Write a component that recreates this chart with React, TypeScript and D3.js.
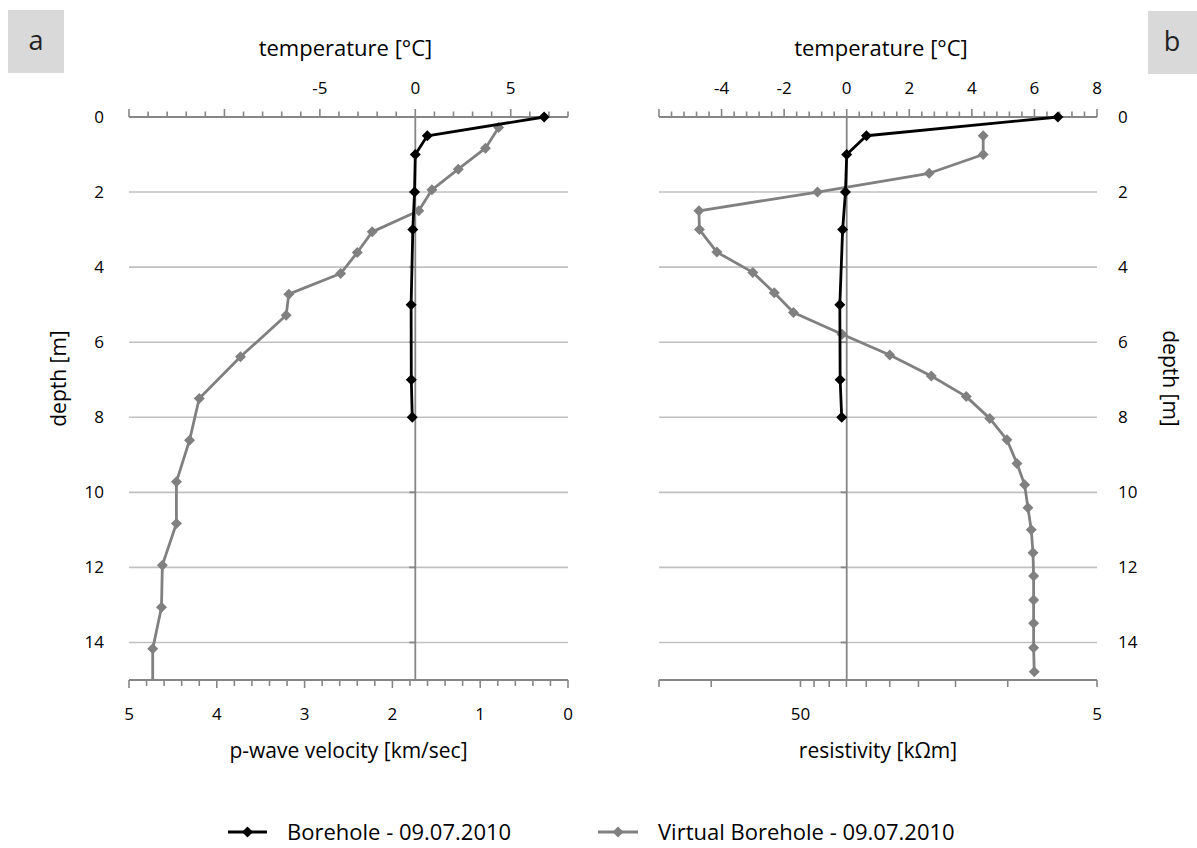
import React from "react";
import * as d3 from "d3";

// ---------- data ----------
const boreholeDepth = [0, 0.5, 1, 2, 3, 5, 7, 8];
const boreholeTemp = [6.75, 0.63, 0.0, -0.04, -0.13, -0.22, -0.21, -0.16];

const virtualDepthA = [0.28, 0.83, 1.39, 1.94, 2.5, 3.06, 3.61, 4.17, 4.72, 5.28, 6.39, 7.5, 8.61, 9.72, 10.83, 11.94, 13.06, 14.17, 15.28];
const virtualVelocity = [0.79, 0.94, 1.25, 1.55, 1.7, 2.23, 2.4, 2.59, 3.18, 3.21, 3.73, 4.2, 4.31, 4.46, 4.46, 4.62, 4.63, 4.73, 4.73];

const virtualDepthB = [0.5, 1, 1.5, 2, 2.5, 3, 3.6, 4.14, 4.68, 5.21, 5.79, 6.34, 6.9, 7.45, 8.03, 8.6, 9.23, 9.8, 10.41, 11.0, 11.61, 12.23, 12.87, 13.49, 14.14, 14.78];
const virtualResistivity = [12.1, 12.1, 18.4, 43.8, 110, 109.6, 95.7, 72.4, 61.3, 52.8, 36.2, 25.0, 18.1, 13.8, 11.5, 10.06, 9.31, 8.77, 8.55, 8.33, 8.22, 8.18, 8.18, 8.18, 8.18, 8.14];

const depthTicks = [0, 2, 4, 6, 8, 10, 12, 14];
const tempLabelsA = [-5, 0, 5];
const tempLabelsB = [-4, -2, 0, 2, 4, 6, 8];
const velocityLabels = [5, 4, 3, 2, 1, 0];
const resistivityTicks = [150, 100, 50, 45, 40, 35, 30, 25, 20, 15, 10, 5];
const resistivityLabels = [50, 5];

const seriesNames = ["Borehole - 09.07.2010", "Virtual Borehole - 09.07.2010"];

// ---------- style ----------
const FONT = "'Open Sans', sans-serif";
const AXIS = "#868686";
const GRID = "#c0c0c0";
const BLACK = "#000000";
const GRAY = "#808080";

const W = 1197;
const H = 848;
const TOP = 117;
const BOTTOM = 680;

const y = d3.scaleLinear().domain([0, 15]).range([TOP, BOTTOM]);

const A = { x0: 129, x1: 568 };
const B = { x0: 659, x1: 1097 };
const xTempA = d3.scaleLinear().domain([-15, 8]).range([A.x0, A.x1]);
const xVel = d3.scaleLinear().domain([5, 0]).range([A.x0, A.x1]);
const xTempB = d3.scaleLinear().domain([-6, 8]).range([B.x0, B.x1]);
const xRes = d3.scaleLog().domain([150, 5]).range([B.x0, B.x1]);

function diamond(cx: number, cy: number, r: number) {
  return `M${cx},${cy - r}L${cx + r},${cy}L${cx},${cy + r}L${cx - r},${cy}Z`;
}

function Series({ xs, ys, color, clip }: { xs: number[]; ys: number[]; color: string; clip?: string }) {
  const pts = xs.map((x, i) => [x, ys[i]] as [number, number]);
  const line = d3.line<[number, number]>().x((d) => d[0]).y((d) => d[1]);
  return (
    <g clipPath={clip}>
      <path d={line(pts) || ""} fill="none" stroke={color} strokeWidth={2.8} strokeLinejoin="round" />
      {pts.map((p, i) => (
        <path key={i} d={diamond(p[0], p[1], 5.5)} fill={color} />
      ))}
    </g>
  );
}

export default function App() {
  const tempMinorA = d3.range(-15, 8.001, 1);
  const velMinor = d3.range(0, 5.001, 0.2);
  const tempMinorB = d3.range(-6, 8.001, 0.4);

  const legendY = 832;
  return (
    <svg width={W} height={H} style={{ display: "block", position: "absolute", left: 0, top: 0 }} fontFamily={FONT}>
      <rect width={W} height={H} fill="#fff" />
      <defs>
        <clipPath id="clipA">
          <rect x={A.x0 - 8} y={TOP - 8} width={A.x1 - A.x0 + 16} height={BOTTOM - TOP + 8} />
        </clipPath>
        <clipPath id="clipB">
          <rect x={B.x0 - 8} y={TOP - 8} width={B.x1 - B.x0 + 16} height={BOTTOM - TOP + 8} />
        </clipPath>
      </defs>

      {/* panel labels */}
      <rect x={8} y={10} width={56} height={63} fill="#d9d9d9" />
      <text x={36} y={50} fontSize={27} textAnchor="middle" fill="#222">a</text>
      <rect x={1148} y={11} width={49} height={63} fill="#d9d9d9" />
      <text x={1172} y={51} fontSize={27} textAnchor="middle" fill="#222">b</text>

      {/* ===== Panel A ===== */}
      {depthTicks.filter((d) => d > 0).map((d) => (
        <line key={d} x1={A.x0} x2={A.x1} y1={y(d)} y2={y(d)} stroke={GRID} strokeWidth={1.6} />
      ))}
      <line x1={xTempA(0)} x2={xTempA(0)} y1={TOP} y2={BOTTOM} stroke={AXIS} strokeWidth={1.8} />
      {depthTicks.filter((d) => d > 0).map((d) => (
        <line key={d} x1={xTempA(0) - 6} x2={xTempA(0)} y1={y(d)} y2={y(d)} stroke={AXIS} strokeWidth={1.8} />
      ))}
      <line x1={A.x0} x2={A.x1} y1={TOP} y2={TOP} stroke={AXIS} strokeWidth={1.8} />
      {tempMinorA.map((t) => (
        <line key={t} x1={xTempA(t)} x2={xTempA(t)} y1={TOP} y2={TOP - (Math.abs(t % 5) < 1e-6 ? 8 : 5.5)} stroke={AXIS} strokeWidth={1.6} />
      ))}
      {tempLabelsA.map((t) => (
        <text key={t} x={xTempA(t)} y={94} fontSize={17} textAnchor="middle">{t}</text>
      ))}
      <text x={(A.x0 + A.x1) / 2 - 3} y={56} fontSize={22} textAnchor="middle">temperature [°C]</text>
      <line x1={A.x0} x2={A.x1} y1={BOTTOM} y2={BOTTOM} stroke={AXIS} strokeWidth={1.8} />
      {velMinor.map((v) => (
        <line key={v} x1={xVel(v)} x2={xVel(v)} y1={BOTTOM} y2={BOTTOM + (Math.abs(v - Math.round(v)) < 1e-6 ? 8 : 6)} stroke={AXIS} strokeWidth={1.6} />
      ))}
      {velocityLabels.map((v) => (
        <text key={v} x={xVel(v)} y={720} fontSize={17} textAnchor="middle">{v}</text>
      ))}
      <text x={(A.x0 + A.x1) / 2} y={758} fontSize={21} textAnchor="middle">p-wave velocity [km/sec]</text>
      {depthTicks.map((d) => (
        <text key={d} x={104} y={y(d) + 6} fontSize={17} textAnchor="end">{d}</text>
      ))}
      <text transform={`translate(66,${(TOP + BOTTOM) / 2 - 20}) rotate(-90)`} fontSize={21} textAnchor="middle">depth [m]</text>

      <Series xs={virtualVelocity.map((v) => xVel(v))} ys={virtualDepthA.map((d) => y(d))} color={GRAY} clip="url(#clipA)" />
      <Series xs={boreholeTemp.map((t) => xTempA(t))} ys={boreholeDepth.map((d) => y(d))} color={BLACK} clip="url(#clipA)" />

      {/* ===== Panel B ===== */}
      {depthTicks.filter((d) => d > 0).map((d) => (
        <line key={d} x1={B.x0} x2={B.x1} y1={y(d)} y2={y(d)} stroke={GRID} strokeWidth={1.6} />
      ))}
      <line x1={xTempB(0)} x2={xTempB(0)} y1={TOP} y2={BOTTOM} stroke={AXIS} strokeWidth={1.8} />
      {depthTicks.filter((d) => d > 0).map((d) => (
        <line key={d} x1={xTempB(0) - 6} x2={xTempB(0)} y1={y(d)} y2={y(d)} stroke={AXIS} strokeWidth={1.8} />
      ))}
      <line x1={B.x0} x2={B.x1} y1={TOP} y2={TOP} stroke={AXIS} strokeWidth={1.8} />
      {tempMinorB.map((t, i) => (
        <line key={i} x1={xTempB(t)} x2={xTempB(t)} y1={TOP} y2={TOP - (i % 5 === 0 ? 8 : 5.5)} stroke={AXIS} strokeWidth={1.6} />
      ))}
      {tempLabelsB.map((t) => (
        <text key={t} x={xTempB(t)} y={94} fontSize={17} textAnchor="middle">{t}</text>
      ))}
      <text x={(B.x0 + B.x1) / 2 + 3} y={56} fontSize={22} textAnchor="middle">temperature [°C]</text>
      <line x1={B.x0} x2={B.x1} y1={BOTTOM} y2={BOTTOM} stroke={AXIS} strokeWidth={1.8} />
      {resistivityTicks.map((r) => (
        <line key={r} x1={xRes(r)} x2={xRes(r)} y1={BOTTOM} y2={BOTTOM + 7} stroke={AXIS} strokeWidth={1.6} />
      ))}
      {resistivityLabels.map((r) => (
        <text key={r} x={xRes(r)} y={720} fontSize={17} textAnchor="middle">{r}</text>
      ))}
      <text x={(B.x0 + B.x1) / 2} y={758} fontSize={21} textAnchor="middle">resistivity [kΩm]</text>
      {depthTicks.map((d) => (
        <text key={d} x={1118} y={y(d) + 6} fontSize={17} textAnchor="start">{d}</text>
      ))}
      <text transform={`translate(1163,${(TOP + BOTTOM) / 2 - 20}) rotate(90)`} fontSize={21} textAnchor="middle">depth [m]</text>

      <Series xs={virtualResistivity.map((r) => xRes(r))} ys={virtualDepthB.map((d) => y(d))} color={GRAY} clip="url(#clipB)" />
      <Series xs={boreholeTemp.map((t) => xTempB(t))} ys={boreholeDepth.map((d) => y(d))} color={BLACK} clip="url(#clipB)" />

      {/* ===== Legend ===== */}
      <line x1={228} x2={267} y1={legendY} y2={legendY} stroke={BLACK} strokeWidth={2.8} />
      <path d={diamond(247.5, legendY, 5.5)} fill={BLACK} />
      <text x={287} y={legendY + 8} fontSize={22}>{seriesNames[0]}</text>
      <line x1={598} x2={638} y1={legendY} y2={legendY} stroke={GRAY} strokeWidth={2.8} />
      <path d={diamond(618, legendY, 5.5)} fill={GRAY} />
      <text x={658} y={legendY + 8} fontSize={22}>{seriesNames[1]}</text>
    </svg>
  );
}
